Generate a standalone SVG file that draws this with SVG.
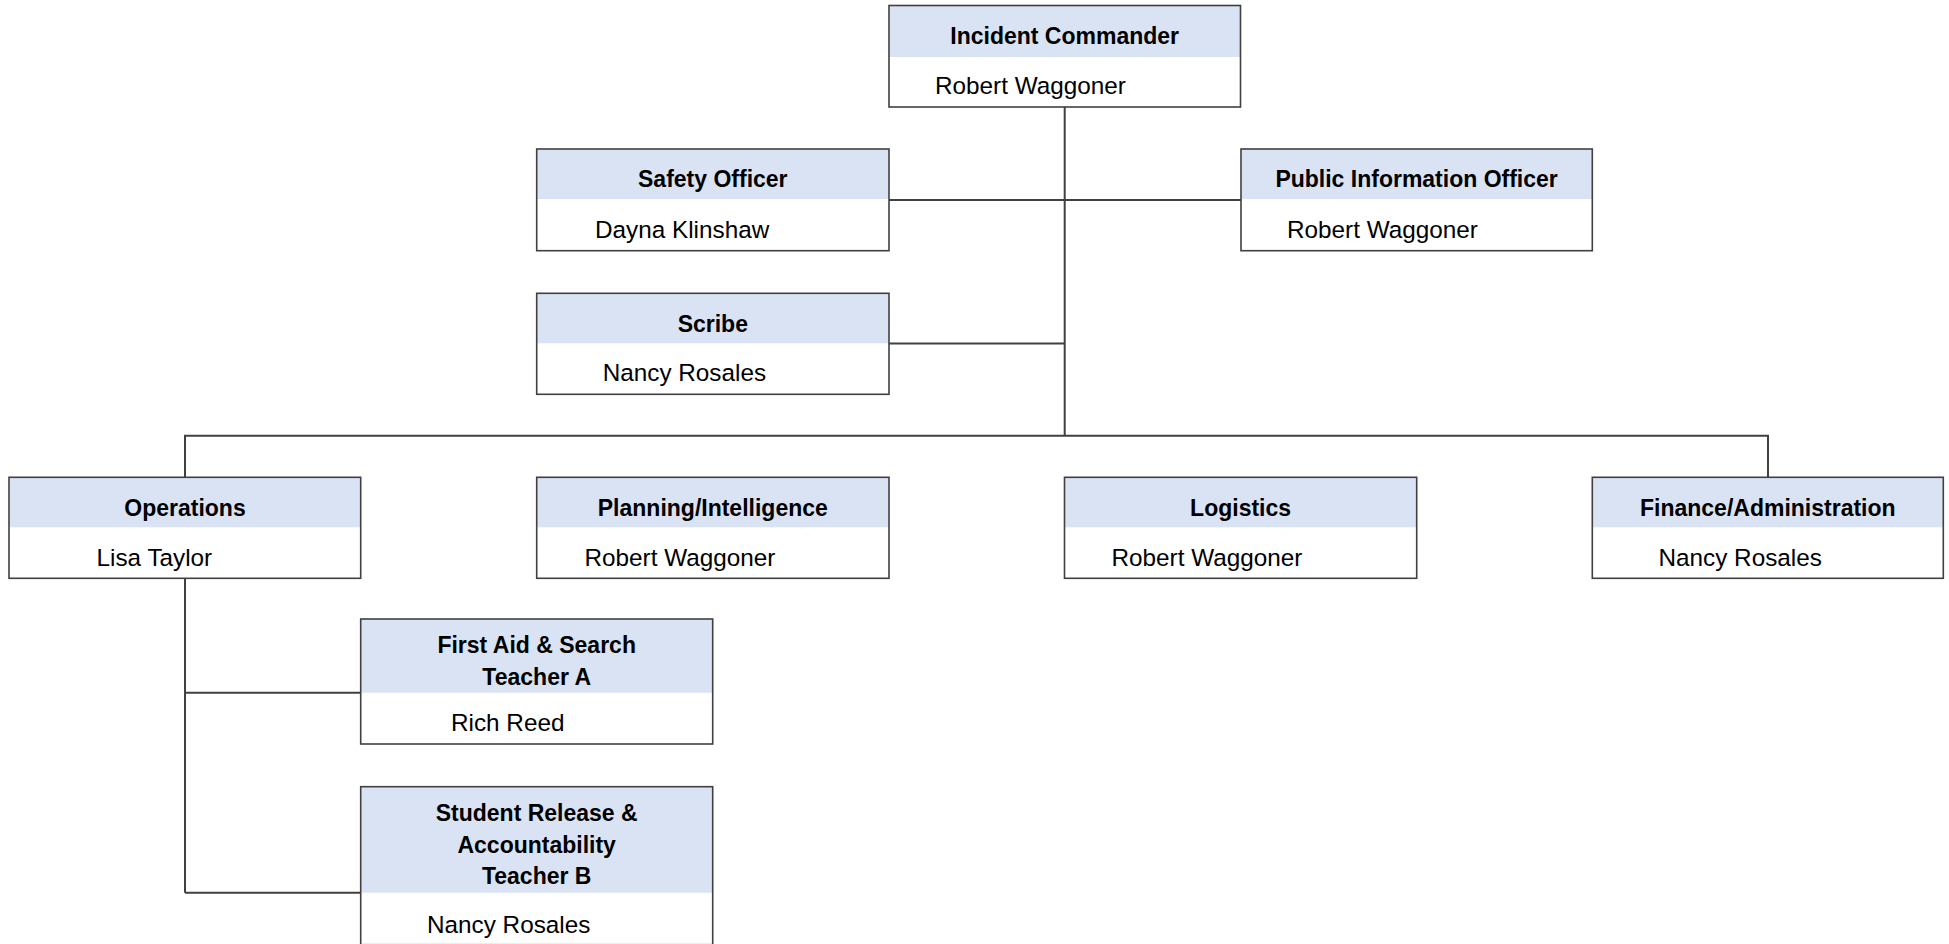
<svg xmlns="http://www.w3.org/2000/svg" width="1949" height="944" viewBox="0 0 1949 944">
<style>
.box{fill:#ffffff;stroke:none}
.hdr{fill:#DAE3F3;stroke:none}
.out{fill:none;stroke:#404040;stroke-width:1.6}
.con{fill:none;stroke:#404040;stroke-width:2}
.t{font-family:"Liberation Sans",Arial,sans-serif;font-size:23px;font-weight:bold;fill:#000;text-anchor:middle}
.n{font-family:"Liberation Sans",Arial,sans-serif;font-size:24.3px;fill:#000}
</style>
<rect width="1949" height="944" fill="#ffffff"/>
<g id="connectors">
<path class="con" d="M1064.7 107V435.7"/>
<path class="con" d="M889 200H1241"/>
<path class="con" d="M889 343.5H1064.7"/>
<path class="con" d="M185 477V435.7H1768V477"/>
<path class="con" d="M185 578V892.7"/>
<path class="con" d="M185 692.7H360.7"/>
<path class="con" d="M185 892.7H360.7"/>
</g>
<g id="incident-commander">
<rect class="box" x="889" y="5.5" width="351.5" height="101.5"/>
<rect class="hdr" x="889" y="5.5" width="351.5" height="51.5"/>
<rect class="out" x="889" y="5.5" width="351.5" height="101.5"/>
<text class="t" x="1064.7" y="43.5">Incident Commander</text>
<text class="n" x="935" y="94">Robert Waggoner</text>
</g>
<g id="safety-officer">
<rect class="box" x="536.7" y="149" width="352.3" height="101.7"/>
<rect class="hdr" x="536.7" y="149" width="352.3" height="50"/>
<rect class="out" x="536.7" y="149" width="352.3" height="101.7"/>
<text class="t" x="712.8" y="187">Safety Officer</text>
<text class="n" x="595" y="238">Dayna Klinshaw</text>
</g>
<g id="public-information-officer">
<rect class="box" x="1241" y="149" width="351.3" height="101.7"/>
<rect class="hdr" x="1241" y="149" width="351.3" height="50"/>
<rect class="out" x="1241" y="149" width="351.3" height="101.7"/>
<text class="t" x="1416.6" y="187">Public Information Officer</text>
<text class="n" x="1287" y="238">Robert Waggoner</text>
</g>
<g id="scribe">
<rect class="box" x="536.7" y="293.3" width="352.3" height="101"/>
<rect class="hdr" x="536.7" y="293.3" width="352.3" height="50"/>
<rect class="out" x="536.7" y="293.3" width="352.3" height="101"/>
<text class="t" x="712.8" y="331.5">Scribe</text>
<text class="n" x="602.7" y="381">Nancy Rosales</text>
</g>
<g id="operations">
<rect class="box" x="9" y="477.3" width="351.7" height="101"/>
<rect class="hdr" x="9" y="477.3" width="351.7" height="50"/>
<rect class="out" x="9" y="477.3" width="351.7" height="101"/>
<text class="t" x="185" y="516.3">Operations</text>
<text class="n" x="96.5" y="566">Lisa Taylor</text>
</g>
<g id="planning-intelligence">
<rect class="box" x="536.7" y="477.3" width="352.3" height="101"/>
<rect class="hdr" x="536.7" y="477.3" width="352.3" height="50"/>
<rect class="out" x="536.7" y="477.3" width="352.3" height="101"/>
<text class="t" x="712.8" y="516.3">Planning/Intelligence</text>
<text class="n" x="584.5" y="566">Robert Waggoner</text>
</g>
<g id="logistics">
<rect class="box" x="1064.5" y="477.3" width="352.2" height="101"/>
<rect class="hdr" x="1064.5" y="477.3" width="352.2" height="50"/>
<rect class="out" x="1064.5" y="477.3" width="352.2" height="101"/>
<text class="t" x="1240.6" y="516.3">Logistics</text>
<text class="n" x="1111.5" y="566">Robert Waggoner</text>
</g>
<g id="finance-administration">
<rect class="box" x="1592.3" y="477.3" width="351" height="101"/>
<rect class="hdr" x="1592.3" y="477.3" width="351" height="50"/>
<rect class="out" x="1592.3" y="477.3" width="351" height="101"/>
<text class="t" x="1767.8" y="516.3">Finance/Administration</text>
<text class="n" x="1658.5" y="566">Nancy Rosales</text>
</g>
<g id="first-aid-search">
<rect class="box" x="360.7" y="619" width="352" height="125"/>
<rect class="hdr" x="360.7" y="619" width="352" height="73.7"/>
<rect class="out" x="360.7" y="619" width="352" height="125"/>
<text class="t" x="536.7" y="653.3">First Aid &amp; Search</text>
<text class="t" x="536.7" y="685">Teacher A</text>
<text class="n" x="451" y="731">Rich Reed</text>
</g>
<g id="student-release-accountability">
<rect class="box" x="360.7" y="786.7" width="352" height="158"/>
<rect class="hdr" x="360.7" y="786.7" width="352" height="106"/>
<rect class="out" x="360.7" y="786.7" width="352" height="158"/>
<text class="t" x="536.7" y="821">Student Release &amp;</text>
<text class="t" x="536.7" y="852.5">Accountability</text>
<text class="t" x="536.7" y="883.5">Teacher B</text>
<text class="n" x="427" y="933">Nancy Rosales</text>
</g>
</svg>
